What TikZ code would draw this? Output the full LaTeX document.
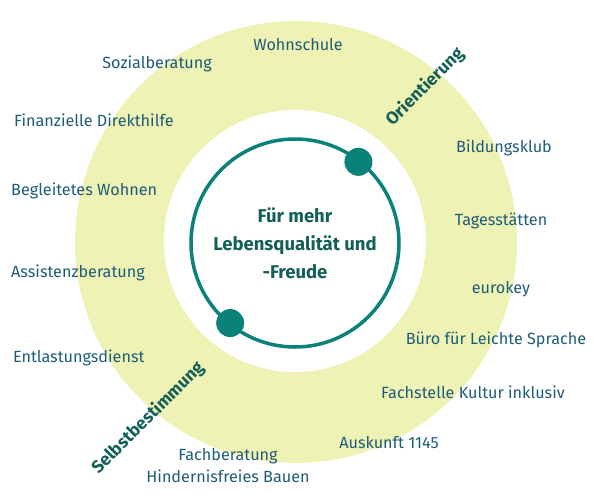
\documentclass[tikz,border=0pt]{standalone}
\usepackage{fontspec}
\setmainfont{Fira Sans}
\usetikzlibrary{calc}
\definecolor{ringyellow}{HTML}{EEF2B4}
\definecolor{teal1}{HTML}{0A8279}
\definecolor{labelblue}{HTML}{1D5C78}
\definecolor{darkteal}{HTML}{145F58}
\tikzset{
  lbl/.style={text=labelblue, font=\fontsize{16.2}{19}\selectfont, inner sep=0pt},
  rot/.style={text=darkteal, font=\fontsize{17.5}{20}\selectfont\bfseries, inner sep=0pt, rotate=45},
  dot/.style={circle, fill=teal1, minimum size=28pt, inner sep=0pt},
}
\begin{document}
\begin{tikzpicture}[x=1pt,y=-1pt]
\useasboundingbox (0,0) rectangle (594,498);
\coordinate (c) at (295,243);
\fill[ringyellow] (296,242) circle (221pt);
\fill[white] (295,241) circle (131pt);
\draw[teal1, line width=3.5pt] (c) circle (104pt);
\node[dot] (d1) at ($(c)+(52:103pt)$) {};
\node[dot] (d2) at ($(c)+(231:103pt)$) {};
\node[text=darkteal, font=\fontsize{18.5}{28}\selectfont\bfseries, align=center] (center) at (c) {Für mehr\\Lebensqualität und\\-Freude};
\node[rot] (ori) at (425,87) {Orientierung};
\node[rot] (sel) at (148,418) {Selbstbestimmung};
\node[lbl] (wohnschule) at (298,45) {Wohnschule};
\node[lbl] (sozial) at (157,64) {Sozialberatung};
\node[lbl, anchor=west] (finanz) at (14,120) {Finanzielle Direkthilfe};
\node[lbl, anchor=west] (begl) at (11,191) {Begleitetes Wohnen};
\node[lbl, anchor=west] (assist) at (11,273) {Assistenzberatung};
\node[lbl, anchor=west] (entl) at (13,358) {Entlastungsdienst};
\node[lbl] (bild) at (504,148) {Bildungsklub};
\node[lbl] (tages) at (501,221) {Tagesstätten};
\node[lbl] (euro) at (501,289) {eurokey};
\node[lbl] (buero) at (496,340) {Büro für Leichte Sprache};
\node[lbl] (fach) at (473,392) {Fachstelle Kultur inklusiv};
\node[lbl] (ausk) at (389,443) {Auskunft 1145};
\node[lbl, align=center, font=\fontsize{16.2}{22}\selectfont] (hind) at (228,466) {Fachberatung\\Hindernisfreies Bauen};
\end{tikzpicture}
\end{document}
